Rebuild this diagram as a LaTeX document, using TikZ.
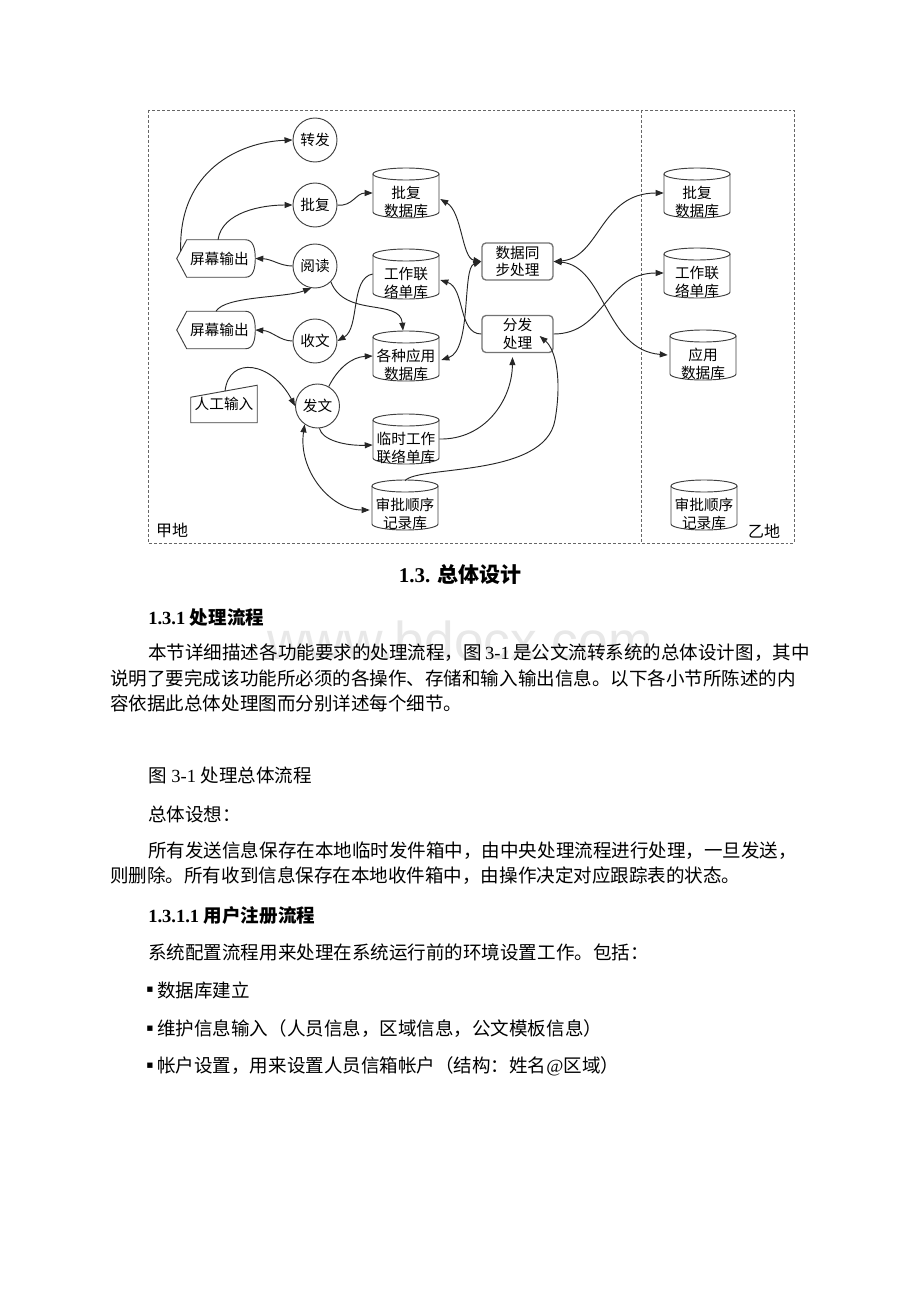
\documentclass[tikz,border=0pt]{standalone}
\usepackage{fontspec}
\setmainfont{Noto Sans CJK SC}
\newfontfamily\lat{Liberation Serif}
\newfontfamily\sym{DejaVu Sans}
\newfontfamily\wmfont{Liberation Sans}
\usetikzlibrary{arrows.meta,calc}
\XeTeXlinebreaklocale "zh"
\XeTeXlinebreakskip=0pt plus 3pt
\newcommand\dgfont{\fontsize{11}{14}\selectfont}
\newcommand\bodyfont{\fontsize{13.9}{16}\selectfont}
\newcommand\dbnode[4]{%
  \node[dbbox] (#1) at (#2,#3) {};
  \pic at (#2,#3) {dbcyl};
  \node[dbtxt] (#1t) at (#2,#3+9) {#4};}
\newcommand\scrshape[1]{%
  \draw[shapeline] (#1.west) -- ($(#1.north west)+(10,0)$) -- ($(#1.north east)+(-10,0)$)
    .. controls ($(#1.north east)+(-2,0)$) and ($(#1.east)+(0,-10)$) .. (#1.east)
    .. controls ($(#1.east)+(0,10)$) and ($(#1.south east)+(-2,0)$) .. ($(#1.south east)+(-10,0)$)
    -- ($(#1.south west)+(10,0)$) -- cycle;}
\tikzset{
  ln/.style={draw=black!85, line width=0.7pt},
  arr/.style={ln, -{Triangle[length=6pt,width=4.5pt]}},
  darr/.style={ln, {Triangle[length=6pt,width=4.5pt]}-{Triangle[length=6pt,width=4.5pt]}},
  proc/.style={circle, draw=black!75, line width=0.7pt, minimum size=33pt, inner sep=0pt, font=\dgfont},
  dbbox/.style={rectangle, minimum width=49.5pt, minimum height=37.5pt, inner sep=0pt},
  dbtxt/.style={align=center, font=\dgfont, inner sep=0pt},
  dbline/.style={draw=black!75, line width=0.7pt},
  shapeline/.style={draw=black!75, line width=0.7pt},
  rbox/.style={rectangle, rounded corners=3pt, draw=black!55, line width=1pt, minimum width=53.25pt, minimum height=27.75pt, align=center, inner sep=0pt, font=\fontsize{11}{13}\selectfont},
  scr/.style={rectangle, minimum width=58.5pt, minimum height=27.75pt, inner sep=0pt, font=\dgfont},
  mbox/.style={rectangle, minimum width=49.5pt, minimum height=27.75pt, inner sep=0pt, font=\dgfont},
  frame/.style={draw=black!60, dash pattern=on 2.2pt off 1.5pt, line width=0.6pt},
  txt/.style={anchor=west, inner sep=0pt, font=\bodyfont},
  pics/dbcyl/.style={code={
    \draw[dbline] (-33,-19) -- (-33,19) .. controls (-33,22.3) and (-18.2,25) .. (0,25)
      .. controls (18.2,25) and (33,22.3) .. (33,19) -- (33,-19);
    \draw[dbline] (-33,-19) .. controls (-33,-22.3) and (-18.2,-25) .. (0,-25)
      .. controls (18.2,-25) and (33,-22.3) .. (33,-19)
      .. controls (33,-15.7) and (18.2,-13) .. (0,-13)
      .. controls (-18.2,-13) and (-33,-15.7) .. (-33,-19) -- cycle;
  }}
}
\begin{document}
\begin{tikzpicture}[x=0.75pt,y=-0.75pt]
\fill[white] (0,0) rectangle (920,1302);
\useasboundingbox (0,0) rectangle (920,1302);

% frame
\draw[frame] (148,110) rectangle (794,543);
\draw[frame] (641,110) -- (641,543);
\node[font=\fontsize{12}{12}\selectfont, inner sep=0pt] (jia) at (172,530) {甲地};
\node[font=\fontsize{12}{12}\selectfont, inner sep=0pt] (yi) at (764,531) {乙地};

% process circles
\node[proc] (zf) at (315,140) {转发};
\node[proc] (pf) at (315,205) {批复};
\node[proc] (yd) at (315,266) {阅读};
\node[proc] (sw) at (315,341) {收文};
\node[proc] (fw) at (317.5,406) {发文};

% databases
\dbnode{pdb}{406}{193}{批复\\数据库}
\dbnode{gdb}{406}{274}{工作联\\络单库}
\dbnode{adb}{406}{356}{各种应用\\数据库}
\dbnode{tdb}{406}{439}{临时工作\\联络单库}
\dbnode{sdb}{405}{505}{审批顺序\\记录库}
\dbnode{rpdb}{697}{193}{批复\\数据库}
\dbnode{rgdb}{697}{273}{工作联\\络单库}
\dbnode{rapp}{703}{355}{应用\\数据库}
\dbnode{rsdb}{704}{505}{审批顺序\\记录库}

% processing boxes
\node[rbox] (sync) at (517.5,261.5) {数据同\\步处理};
\node[rbox] (ff) at (517.5,334) {分发\\处理};

% screen outputs
\node[scr] (scr1) at (216,258.5) {\hspace*{5pt}屏幕输出};
\node[scr] (scr2) at (216,330) {\hspace*{5pt}屏幕输出};
\scrshape{scr1}
\scrshape{scr2}

% manual input
\node[mbox] (mi) at (224,404) {\raisebox{-3pt}{人工输入}};
\draw[shapeline] (mi.south west) -- (mi.south east) -- (mi.north east) -- ($(mi.north west)+(0,12)$) -- cycle;

% connectors
\draw[arr] ($(scr1.west)+(4,-7)$) .. controls (178,170) and (240,142) .. (zf.west);
\draw[arr] ($(scr1.north)+(2,0)$) .. controls (222,212) and (262,205) .. (pf.west);
\draw[arr] (pf.east) .. controls (352,207) and (356,193) .. (pdb.west);
\draw[arr] (yd.west) .. controls (280,266) and (272,259) .. (scr1.east);
\draw[arr] (scr2.north) .. controls (225,296) and (285,298) .. (yd.-100);
\draw[arr] (sw.west) .. controls (280,341) and (272,331) .. (scr2.east);
\draw[arr] (yd.-45) .. controls (345,318) and (400,298) .. ($(adb.north)+(-3,0)$);
\draw[arr] (gdb.west) .. controls (350,278) and (360,328) .. (sw.east);
\draw[arr] (ff.west) .. controls (458,334) and (465,288) .. ($(gdb.east)+(1,6)$);
\draw[darr] ($(pdb.east)+(1,6)$) .. controls (462,212) and (462,258) .. (sync.west);
\draw[darr] (sync.west) .. controls (462,268) and (472,350) .. ($(adb.east)+(2,4)$);
\draw[darr] (sync.east) .. controls (600,258) and (600,193) .. (rpdb.west);
\draw[darr] (sync.east) .. controls (605,266) and (605,350) .. ($(rapp.west)+(-2,0)$);
\draw[arr] (ff.east) .. controls (605,334) and (605,273) .. (rgdb.west);
\draw[arr] (tdb.east) .. controls (485,440) and (512,400) .. ($(ff.south)+(-5,4)$);
\draw[arr] ($(sdb.north)+(0,1)$) .. controls (418,465) and (545,478) .. (555,420)
   .. controls (562,380) and (556,350) .. ($(ff.east)+(-14,2)$);
\draw[arr] ($(mi.north)+(1,6)$) .. controls (229,355) and (272,362) .. (fw.west);
\draw[arr] (fw.60) .. controls (338,368) and (352,357) .. (adb.west);
\draw[arr] (fw.-85) .. controls (322,440) and (345,446) .. ($(tdb.west)+(0,6)$);
\draw[darr] (fw.-125) .. controls (298,470) and (330,510) .. ($(sdb.west)+(-2,5)$);

% watermark
\node[font=\wmfont\fontsize{40}{40}\selectfont, text=black!9, inner sep=0pt] (wm) at (460,640) {www.bdocx.com};

% body text
\node[inner sep=0pt, font=\fontsize{15.75}{18}\selectfont\bfseries] (h1) at (460,575) {{\lat 1.3. }总体设计};
\node[txt, font=\bodyfont\bfseries] (h2) at (148,617) {{\lat 1.3.1 }处理流程};
\node[txt] (p1) at (148,653) {\hbox to 496pt{本节详细描述各功能要求的处理流程，图{\lat\ 3-1\ }是公文流转系统的总体设计图，其中}};
\node[txt] (p2) at (110,678) {说明了要完成该功能所必须的各操作、存储和输入输出信息。以下各小节所陈述的内};
\node[txt] (p3) at (110,703) {容依据此总体处理图而分别详述每个细节。};
\node[txt] (cap) at (148,775) {图{\lat\ 3-1\ }处理总体流程};
\node[txt] (q1) at (148,814) {总体设想：};
\node[txt] (q2) at (148,851) {\hbox to 493pt{所有发送信息保存在本地临时发件箱中，由中央处理流程进行处理，一旦发送，}};
\node[txt] (q3) at (110,876) {则删除。所有收到信息保存在本地收件箱中，由操作决定对应跟踪表的状态。};
\node[txt, font=\bodyfont\bfseries] (h3) at (148,915) {{\lat 1.3.1.1 }用户注册流程};
\node[txt] (r1) at (148,952) {系统配置流程用来处理在系统运行前的环境设置工作。包括：};
\node[inner sep=0pt, font=\sym\fontsize{8}{8}\selectfont] (b1) at (150,990) {▪};
\node[txt] (r2) at (157,990) {数据库建立};
\node[inner sep=0pt, font=\sym\fontsize{8}{8}\selectfont] (b2) at (150,1029) {▪};
\node[txt] (r3) at (157,1029) {维护信息输入（人员信息，区域信息，公文模板信息）};
\node[inner sep=0pt, font=\sym\fontsize{8}{8}\selectfont] (b3) at (150,1066) {▪};
\node[txt] (r4) at (157,1066) {帐户设置，用来设置人员信箱帐户（结构：姓名{\lat @}区域）};
\end{tikzpicture}
\end{document}
